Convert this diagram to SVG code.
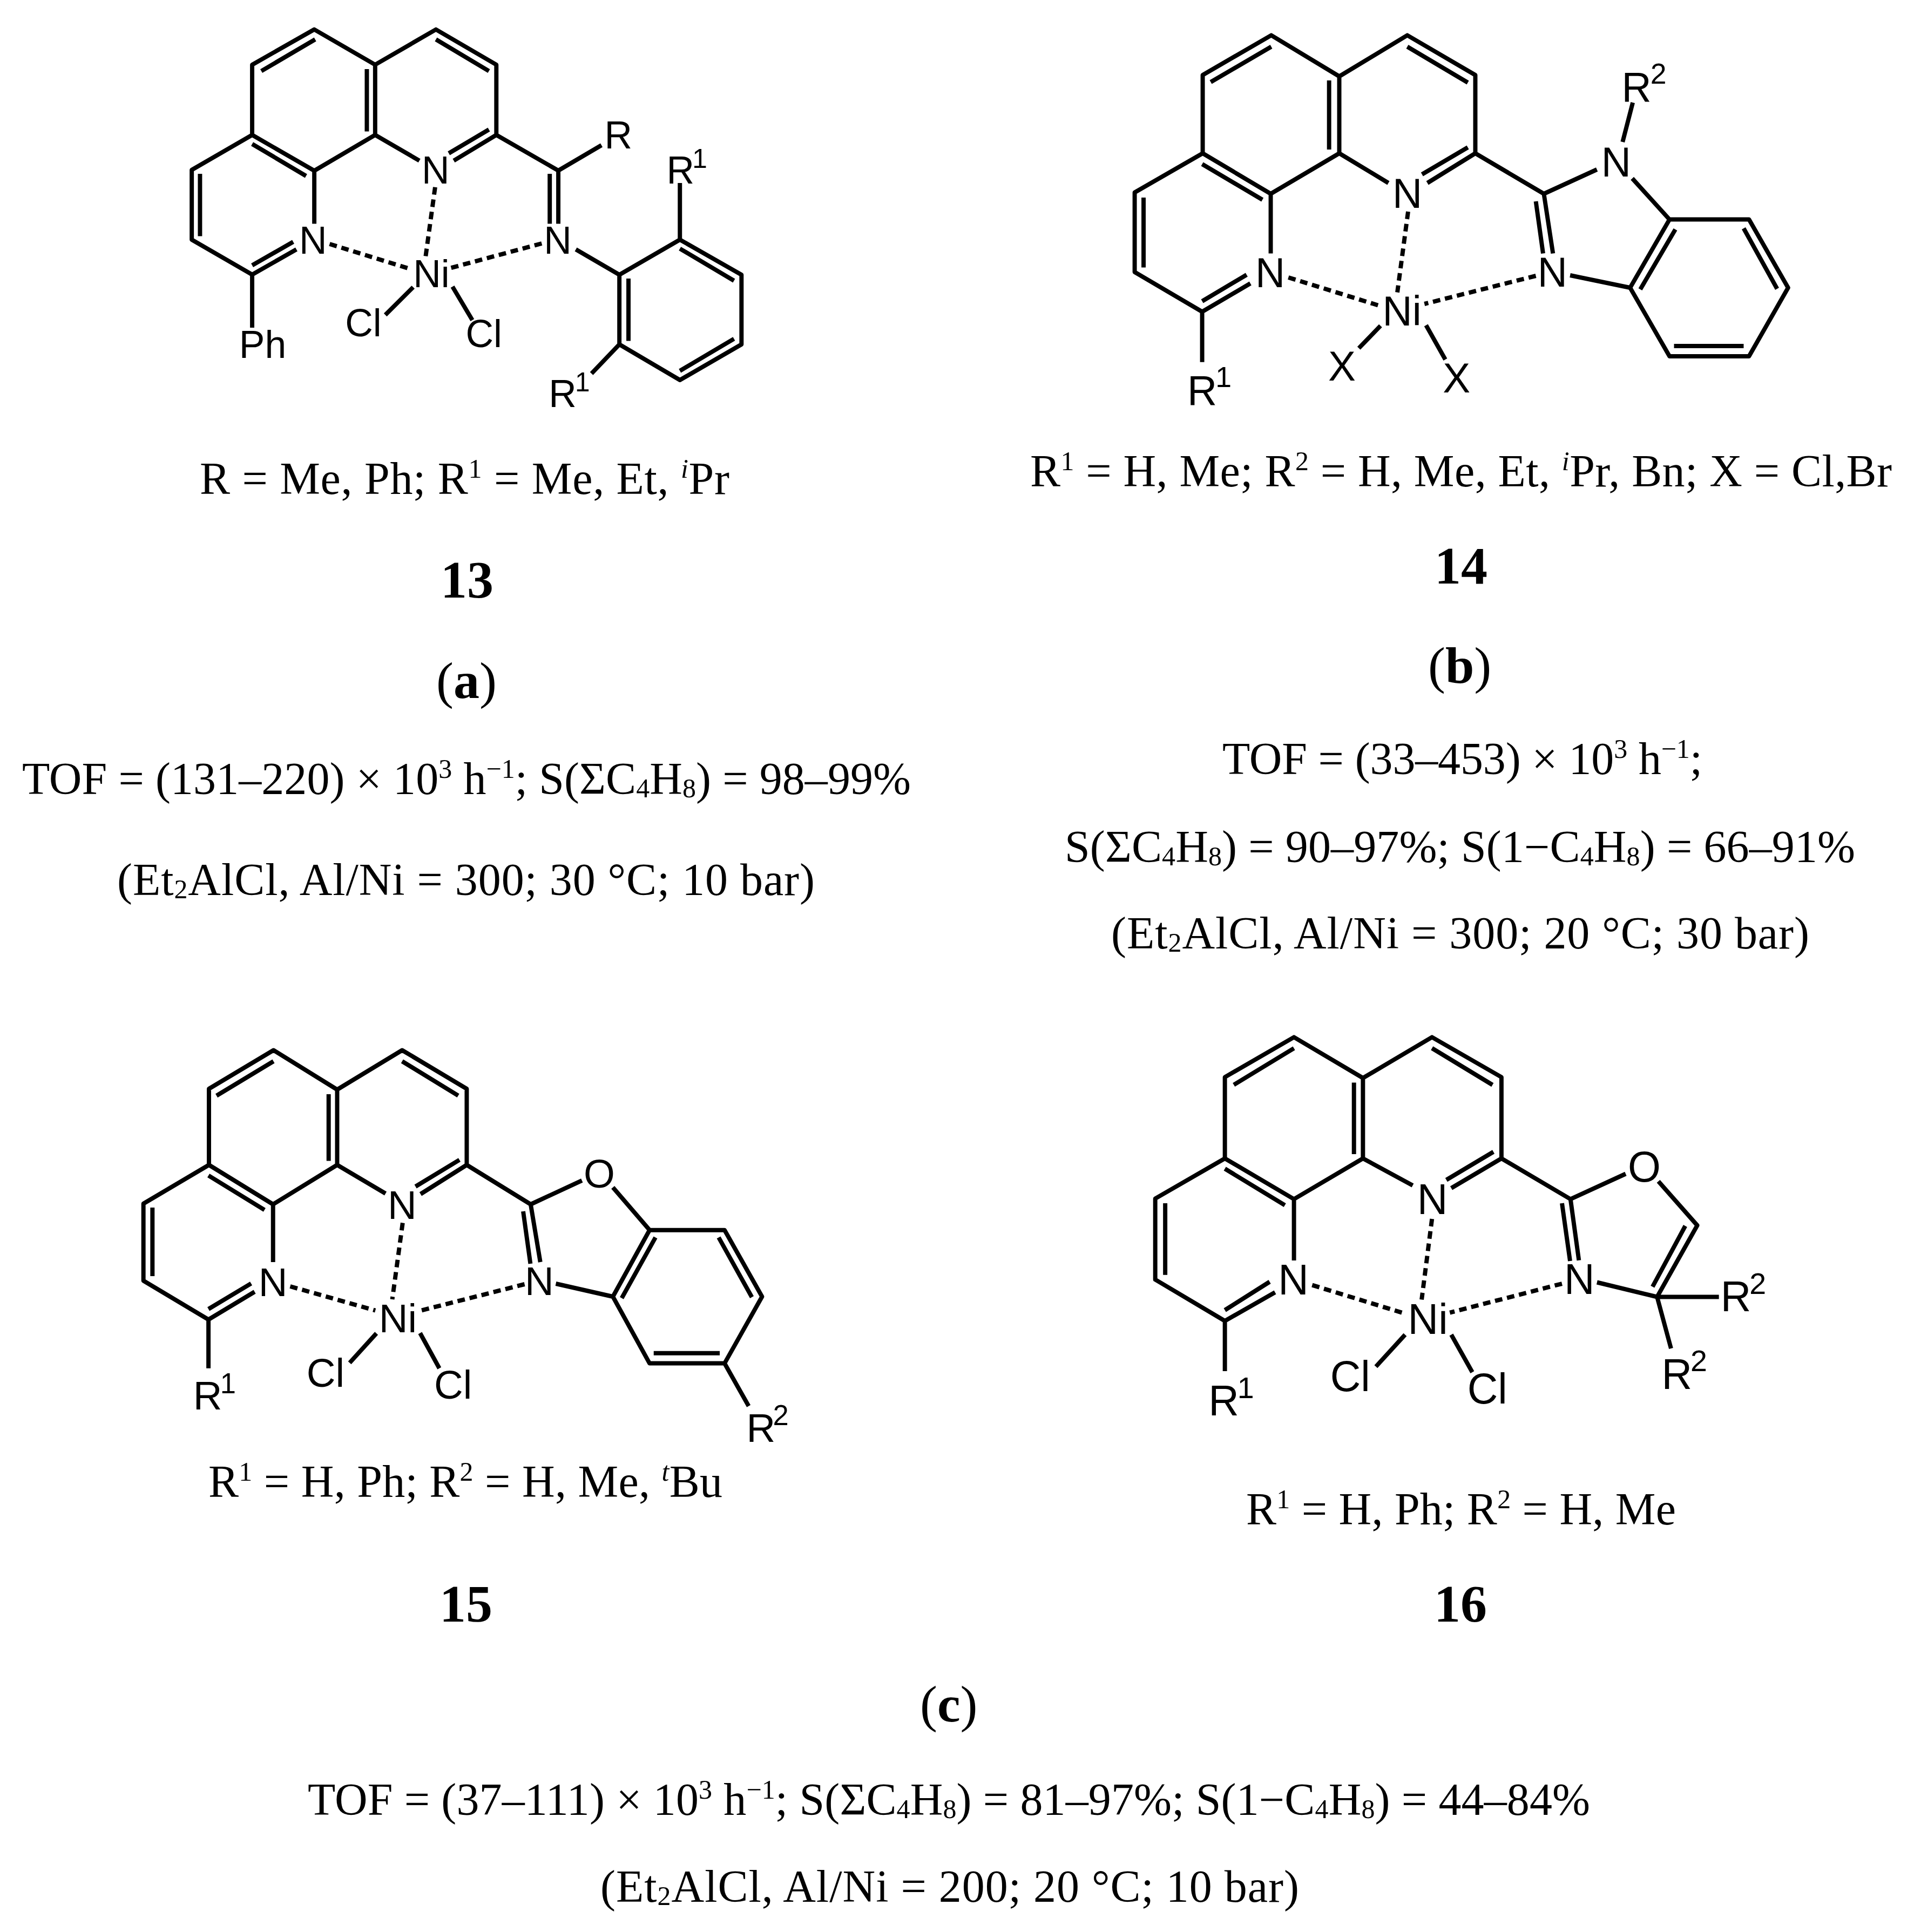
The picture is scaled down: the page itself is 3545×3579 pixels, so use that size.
<svg xmlns="http://www.w3.org/2000/svg" width="3545" height="3579" viewBox="0 0 3545 3579">
<style>
.bond{fill:none;stroke:#000;stroke-width:8;stroke-linecap:butt;stroke-linejoin:round}
.dash{fill:none;stroke:#000;stroke-width:8;stroke-dasharray:14 9}
.a{font-family:"Liberation Sans",Arial,sans-serif;fill:#000;text-anchor:middle}
.t{font-family:"Liberation Serif","Times New Roman",serif;font-size:84px;fill:#000}
.n{font-weight:bold;font-size:98px}
.p{font-size:96px}
.u{font-size:50px}
.d{font-size:50px}
.i{font-style:italic}
.bb{font-weight:bold}
</style>
<rect width="3545" height="3579" fill="#fff"/>

<g id="compound-13" transform="matrix(.992 0 0 1 2.4 0)">
<g class="connectors">
<path class="bond" d="M468.4,250L468.4,119.9L584.4,54.6L698,119.9L811.5,54.6L924.3,119.9L924.3,250L1040,316L1120.6,269M698,119.9L698,250L584.4,316.3L468.4,250L355.6,314.8L355.6,444L468.4,508.7L468.4,607M584.4,316.3L584.4,414.5M698,250L780.6,297.6M924.3,250L844.8,297.6M468.4,508.7L551,462M1040,316L1040,414.5M1267,339L1267,444L1382,509L1382,638L1267,704L1154,638L1154,509L1267,444M1072.7,462L1154,509M1154,638L1102,692M910.4,240L835.5,284M468.4,491.5L545,448M485.5,131.6L586,73M811.5,73L910.4,131.6M682.5,128L682.5,243.6M468.4,266.7L569,326M371,322L371,437.6M1024,322L1024,414.5M1267,460.6L1368,520M1171,516L1171,631.5M1368,627.6L1267,687M769,532L717,583.4M842.4,531L879.5,593"/>
<path class="dash" d="M810,346.7L792,477M613,452L766,499M1009,451L838.6,496.5"/>
</g>
<g>
<text class="a" font-size="72" x="582" y="470">N</text>
<text class="a" font-size="72" x="811" y="340">N</text>
<text class="a" font-size="72" x="1039" y="470">N</text>
<text class="a" font-size="72" x="803" y="532">Ni</text>
<text class="a" font-size="72" x="1152" y="275">R</text>
<text class="a" font-size="72" x="676" y="623">Cl</text>
<text class="a" font-size="72" x="901" y="643">Cl</text>
<text class="a" font-size="72" x="488" y="663">Ph</text>
<text class="a" font-size="72"><tspan x="1268" y="340">R</tspan><tspan x="1304" y="311" font-size="50">1</tspan></text>
<text class="a" font-size="72"><tspan x="1048" y="754">R</tspan><tspan x="1085" y="725" font-size="50">1</tspan></text>
</g>
</g>

<g id="compound-14" transform="matrix(.992 0 0 1 16.4 0)">
<g class="connectors">
<path class="bond" d="M2229,284L2229,139L2357,65.4L2484,141.5L2611,65.4L2738,139L2738,284L2866,359L2965,314M2484,141.5L2484,284L2356,359L2229,284L2102,356.5L2102,504L2228,577.5L2228,670.8M2356,359L2356,469.5M2484,284L2575.7,339M2738,284L2648.5,339M2228,577.5L2318,525M2866,359L2883,469.5M3032,190L3013,263M3031,330.5L3100.6,406.6L3249,406.6L3322,533L3249,660L3100.6,660L3027,533L3100.6,406.6M2915,510L3027,533M2724,273L2638.5,323M2228,558L2311,509M2244,152L2357,86.5M2611,86.5L2724,153M2465,149L2465,277M2228,304L2340.5,370M2118.6,366L2118.6,495.5M2851,373L2864.5,469.5M3111.5,425L3046,536M3239,423L3301.5,535M3239,641L3109,641M2561,603.5L2520.5,645M2646,602.5L2682,666"/>
<path class="dash" d="M2612.5,392L2592.4,541.6M2389,514L2558,566M2851,511L2643,563"/>
</g>
<g>
<text class="a" font-size="77" x="2355" y="532">N</text>
<text class="a" font-size="77" x="2611" y="385.5">N</text>
<text class="a" font-size="77" x="3001" y="327">N</text>
<text class="a" font-size="77" x="2882" y="531">N</text>
<text class="a" font-size="77" x="2601" y="603">Ni</text>
<text class="a" font-size="77" x="2489" y="705">X</text>
<text class="a" font-size="77" x="2703" y="727">X</text>
<text class="a" font-size="77"><tspan x="3039" y="188">R</tspan><tspan x="3080" y="155" font-size="54">2</tspan></text>
<text class="a" font-size="77"><tspan x="2228" y="750">R</tspan><tspan x="2268" y="717" font-size="54">1</tspan></text>
</g>
</g>

<g id="compound-15" transform="matrix(.992 0 0 1 1.8 0)">
<g class="connectors">
<path class="bond" d="M388.3,2158L388.3,2017L508.8,1945.5L627.7,2018.5L749,1945.5L869.6,2017L869.6,2158L989,2231L1084.7,2186.8M627.7,2018.5L627.7,2158L508,2231L388.3,2158L266,2229.7L266,2372.5L387.4,2444.5L387.4,2534.8M508,2231L508,2338M627.7,2158L718,2211M869.6,2158L783.4,2212M387.4,2444.5L473.6,2393M989,2231L1007,2338M1142.5,2199.6L1211,2278.7L1351,2278.7L1421,2402L1351,2525.6L1211,2525.6L1142.5,2402L1211,2278.7M1036,2378L1142.5,2402M1351,2525.6L1396,2604.7M856,2148.6L774,2198M387.4,2425L467,2377.6M402.5,2029.7L508.8,1966M749,1966L853.7,2029.7M611.8,2027L611.8,2150.6M387.4,2177.6L492,2241.4M282.8,2237L282.8,2364M975,2244L988.5,2341M1222,2292.4L1159,2404.7M1340,2292.4L1402,2403M1342,2506.7L1218.7,2506.7M701,2470L651,2524.6M782.5,2469.5L818.5,2534.8"/>
<path class="dash" d="M750,2265.4L730.6,2407M540,2383L699,2427.6M977.6,2379L779,2429"/>
</g>
<g>
<text class="a" font-size="75" x="508" y="2400.6">N</text>
<text class="a" font-size="75" x="749" y="2257.7">N</text>
<text class="a" font-size="75" x="1005" y="2399">N</text>
<text class="a" font-size="75" x="741" y="2468.5">Ni</text>
<text class="a" font-size="75" x="1117" y="2200">O</text>
<text class="a" font-size="75" x="606" y="2569">Cl</text>
<text class="a" font-size="75" x="844" y="2591">Cl</text>
<text class="a" font-size="75"><tspan x="1419" y="2671.5">R</tspan><tspan x="1456" y="2640" font-size="53">2</tspan></text>
<text class="a" font-size="75"><tspan x="386" y="2611">R</tspan><tspan x="424" y="2580.7" font-size="53">1</tspan></text>
</g>
</g>

<g id="compound-16" transform="matrix(.992 0 0 1 16.8 0)">
<g class="connectors">
<path class="bond" d="M2270,2146L2270,1995.4L2399,1921.4L2527.8,1997L2656.7,1921.4L2786.4,1995.4L2786.4,2146L2915.3,2221.4L3018.3,2174.5M2527.8,2146L2527.8,1997M2527.8,2146L2399,2221.4L2270,2146L2140,2220.4L2140,2370.4L2270,2447L2270,2540M2399,2221.4L2399,2335M2527.8,2146L2620.7,2196M2786.4,2146L2692.7,2201M2270,2447L2363.7,2394M2915.3,2221.4L2931,2334.7M3079.4,2188.3L3152,2270L3077,2402.5L2964.8,2375.5M3192.4,2402.5L3077,2402.5L3103,2498M2771.4,2133.7L2683.5,2185.7M2270,2427L2353.6,2374.5M2286.7,2009.7L2399,1941.8M2656.7,1941.8L2769.7,2009.7M2511,2005.6L2511,2138M2270,2165L2382,2232.6M2158.6,2229L2158.6,2361.7M2899.4,2229L2914.5,2336M3129.6,2271L3068.5,2383.7M2606.5,2472.5L2552,2531.6M2692.7,2472.5L2732,2542"/>
<path class="dash" d="M2656.7,2258L2637.4,2407.6M2433,2380.6L2605,2433M2899.4,2378L2690,2431.6"/>
</g>
<g>
<text class="a" font-size="79" x="2398" y="2398.4">N</text>
<text class="a" font-size="79" x="2657.5" y="2249">N</text>
<text class="a" font-size="79" x="2932" y="2397.4">N</text>
<text class="a" font-size="79" x="2649" y="2471.4">Ni</text>
<text class="a" font-size="79" x="3053" y="2189">O</text>
<text class="a" font-size="79" x="2504" y="2577">Cl</text>
<text class="a" font-size="79" x="2760" y="2600">Cl</text>
<text class="a" font-size="79"><tspan x="3224" y="2429">R</tspan><tspan x="3265" y="2397" font-size="56">2</tspan></text>
<text class="a" font-size="79"><tspan x="3114" y="2573">R</tspan><tspan x="3155" y="2540" font-size="56">2</tspan></text>
<text class="a" font-size="79"><tspan x="2268" y="2622">R</tspan><tspan x="2309" y="2590" font-size="56">1</tspan></text>
</g>
</g>

<g id="captions">
<text class="t" x="370" y="915" textLength="981">R = Me, Ph; R<tspan class="u" dy="-30">1</tspan><tspan dy="30"> = Me, Et, </tspan><tspan class="u i" dy="-30">i</tspan><tspan dy="30">Pr</tspan></text>
<text class="t n" x="816" y="1107">13</text>
<text class="t p" x="808" y="1293">(<tspan class="bb">a</tspan>)</text>
<text class="t" x="41" y="1471" textLength="1646">TOF = (131–220) × 10<tspan class="u" dy="-30">3</tspan><tspan dy="30"> h</tspan><tspan class="u" dy="-30">−1</tspan><tspan dy="30">; S(ΣC</tspan><tspan class="d" dy="6">4</tspan><tspan dy="-6">H</tspan><tspan class="d" dy="6">8</tspan><tspan dy="-6">) = 98–99%</tspan></text>
<text class="t" x="217" y="1658" textLength="1292">(Et<tspan class="d" dy="6">2</tspan><tspan dy="-6">AlCl, Al/Ni = 300; 30 °C; 10 bar)</tspan></text>

<text class="t" x="1908" y="901" textLength="1596">R<tspan class="u" dy="-30">1</tspan><tspan dy="30"> = H, Me; R</tspan><tspan class="u" dy="-30">2</tspan><tspan dy="30"> = H, Me, Et, </tspan><tspan class="u i" dy="-30">i</tspan><tspan dy="30">Pr, Bn; X = Cl,Br</tspan></text>
<text class="t n" x="2657" y="1081">14</text>
<text class="t p" x="2645" y="1265">(<tspan class="bb">b</tspan>)</text>
<text class="t" x="2264" y="1434" textLength="889">TOF = (33–453) × 10<tspan class="u" dy="-30">3</tspan><tspan dy="30"> h</tspan><tspan class="u" dy="-30">−1</tspan><tspan dy="30">;</tspan></text>
<text class="t" x="1972" y="1597" textLength="1464">S(ΣC<tspan class="d" dy="6">4</tspan><tspan dy="-6">H</tspan><tspan class="d" dy="6">8</tspan><tspan dy="-6">) = 90–97%; S(1−C</tspan><tspan class="d" dy="6">4</tspan><tspan dy="-6">H</tspan><tspan class="d" dy="6">8</tspan><tspan dy="-6">) = 66–91%</tspan></text>
<text class="t" x="2058" y="1757" textLength="1293">(Et<tspan class="d" dy="6">2</tspan><tspan dy="-6">AlCl, Al/Ni = 300; 20 °C; 30 bar)</tspan></text>

<text class="t" x="386" y="2773" textLength="952">R<tspan class="u" dy="-30">1</tspan><tspan dy="30"> = H, Ph; R</tspan><tspan class="u" dy="-30">2</tspan><tspan dy="30"> = H, Me, </tspan><tspan class="u i" dy="-30">t</tspan><tspan dy="30">Bu</tspan></text>
<text class="t n" x="814" y="3004">15</text>
<text class="t" x="2308" y="2824" textLength="796">R<tspan class="u" dy="-30">1</tspan><tspan dy="30"> = H, Ph; R</tspan><tspan class="u" dy="-30">2</tspan><tspan dy="30"> = H, Me</tspan></text>
<text class="t n" x="2656" y="3004">16</text>
<text class="t p" x="1704" y="3189">(<tspan class="bb">c</tspan>)</text>
<text class="t" x="570" y="3362" textLength="2375">TOF = (37–111) × 10<tspan class="u" dy="-30">3</tspan><tspan dy="30"> h</tspan><tspan class="u" dy="-30">−1</tspan><tspan dy="30">; S(ΣC</tspan><tspan class="d" dy="6">4</tspan><tspan dy="-6">H</tspan><tspan class="d" dy="6">8</tspan><tspan dy="-6">) = 81–97%; S(1−C</tspan><tspan class="d" dy="6">4</tspan><tspan dy="-6">H</tspan><tspan class="d" dy="6">8</tspan><tspan dy="-6">) = 44–84%</tspan></text>
<text class="t" x="1112" y="3523" textLength="1294">(Et<tspan class="d" dy="6">2</tspan><tspan dy="-6">AlCl, Al/Ni = 200; 20 °C; 10 bar)</tspan></text>
</g>
</svg>
